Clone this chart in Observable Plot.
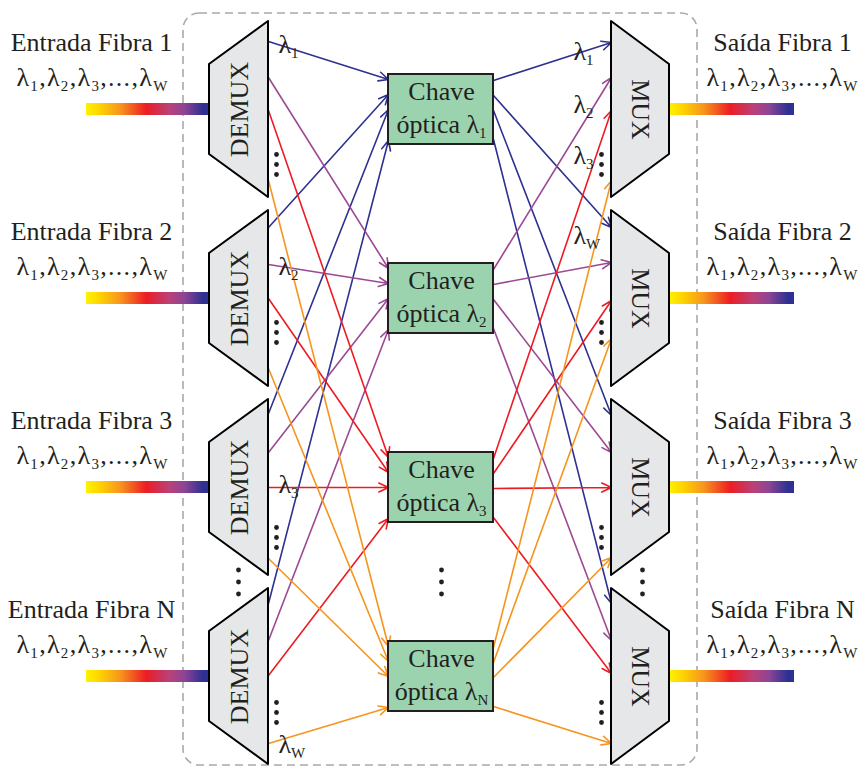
<!DOCTYPE html>
<html><head><meta charset="utf-8">
<script src="https://cdn.jsdelivr.net/npm/d3@7"></script>
<script src="https://cdn.jsdelivr.net/npm/@observablehq/plot@0.6"></script>
<style>body{margin:0;background:#fff}</style>
</head><body><div id="chart"></div>
<script>
// ---- data ----
const fibers = ["1", "2", "3", "N"];
const wavelengths = ["1", "2", "3", "W"];
const waveColors = ["#2e3192", "#9b4993", "#ed1c24", "#f7941d"];
const rowY = [109, 298, 487, 676];                       // centre of each row (fibre / switch)
const demuxPortOffsets = [[-68, -32, 1, 71], [-71, -34, 0, 70], [-74, -35, 0, 71], [-73, -36, -1, 67]];
const muxPortOffsets   = [[-67, -32, 1, 71], [-71, -36, 2, 40], [-72, -35, 0, 70], [-73, -36, -3, 67]];
const switchInOffsets  = [-30, -15, 0, 31];
const switchOutOffsets = [-29, -14, 1, 30];
const portDotOffsets   = [45, 24, 40, 26];
const demuxLabels = [{row: 0, w: 0, dy: -57}, {row: 1, w: 1, dy: -24}, {row: 2, w: 2, dy: 5}, {row: 3, w: 3, dy: 76}];
const muxLabels   = [{w: 0, y: 59}, {w: 1, y: 112}, {w: 2, y: 163}, {w: 3, y: 243}];

// ---- layout ----
const L = {demuxL: 209, demuxR: 268, muxL: 611, muxR: 669, boxL: 388, boxR: 493,
  narrow: 45, wide: 88, boxHalf: 35, barH: 6, leftBar: [86, 209], rightBar: [669, 794],
  leftText: 91, rightText: 782, fs: 26};
const ink = "#231f20";

const trapezoids = [];
rowY.forEach((c, i) => {
  trapezoids.push({id: "d" + i, x: L.demuxL, y1: c - L.narrow, y2: c + L.narrow},
                  {id: "d" + i, x: L.demuxR, y1: c - L.wide, y2: c + L.wide},
                  {id: "m" + i, x: L.muxL, y1: c - L.wide, y2: c + L.wide},
                  {id: "m" + i, x: L.muxR, y1: c - L.narrow, y2: c + L.narrow});
});
const links = [];
wavelengths.forEach((w, j) => {
  rowY.forEach((c, k) => {
    links.push({x1: L.demuxR, y1: c + demuxPortOffsets[k][j], x2: L.boxL, y2: rowY[j] + switchInOffsets[k], color: waveColors[j]});
    links.push({x1: L.boxR, y1: rowY[j] + switchOutOffsets[k], x2: L.muxL, y2: c + muxPortOffsets[k][j], color: waveColors[j]});
  });
});
const dots = [];
rowY.forEach((c, k) => [0, 10, 20].forEach(s => {
  dots.push({x: 276, y: c + portDotOffsets[k] + s});
  dots.push({x: 601, y: c + portDotOffsets[k] + s});
}));
const gapMid = (rowY[2] + rowY[3]) / 2;
[-12, 0, 12].forEach(s => [238, 441, 642].forEach(x => dots.push({x, y: gapMid + s})));

const bars = rowY.flatMap(c => [
  {x1: L.leftBar[0], x2: L.leftBar[1], y1: c - L.barH, y2: c + L.barH},
  {x1: L.rightBar[0], x2: L.rightBar[1], y1: c - L.barH, y2: c + L.barH}]);

const rows = rowY.map((c, i) => ({c, f: fibers[i], w: wavelengths[i]}));
const lamList = "λ_1,λ_2,λ_3,...,λ_W";

const plot = Plot.plot({
  width: 861, height: 769, margin: 0,
  x: {domain: [0, 861], range: [0, 861], axis: null},
  y: {domain: [0, 769], range: [0, 769], axis: null},
  color: {type: "identity"},
  style: {fontFamily: "'Liberation Serif', 'Times New Roman', serif", background: "#fff", color: ink},
  marks: [
    Plot.rect([{}], {x1: 183, x2: 697, y1: 13, y2: 765, rx: 16, fill: "none", stroke: "#a7a9ac", strokeWidth: 1.6, strokeDasharray: "8,5"}),
    Plot.rect(bars, {x1: "x1", x2: "x2", y1: "y1", y2: "y2", fill: "url(#fibreGrad)"}),
    Plot.arrow(links, {x1: "x1", y1: "y1", x2: "x2", y2: "y2", stroke: "color", strokeWidth: 1.6, headLength: 10, headAngle: 50}),
    Plot.areaY(trapezoids, {x: "x", y1: "y1", y2: "y2", z: "id", fill: "#e6e7e8", stroke: "#000", strokeWidth: 2, curve: "linear"}),
    Plot.rect(rows, {x1: L.boxL, x2: L.boxR, y1: d => d.c - L.boxHalf, y2: d => d.c + L.boxHalf, fill: "#9bd3ae", stroke: ink, strokeWidth: 2}),
    Plot.dot(dots, {x: "x", y: "y", r: 2.4, fill: ink, stroke: null}),
    Plot.text(rows, {x: L.leftText, y: d => d.c - 59, text: d => "Entrada Fibra " + d.f, fontSize: L.fs, lineAnchor: "bottom", fill: ink}),
    Plot.text(rows, {x: L.leftText + 1, y: d => d.c - 24, text: () => lamList, fontSize: L.fs, lineAnchor: "bottom", fill: ink}),
    Plot.text(rows, {x: L.rightText, y: d => d.c - 59, text: d => "Saída Fibra " + d.f, fontSize: L.fs, lineAnchor: "bottom", fill: ink}),
    Plot.text(rows, {x: L.rightText, y: d => d.c - 24, text: () => lamList, fontSize: L.fs, lineAnchor: "bottom", fill: ink}),
    Plot.text(rows, {x: 239, y: d => d.c, text: () => "DEMUX", rotate: -90, fontSize: L.fs, fill: ink}),
    Plot.text(rows, {x: 640, y: d => d.c, text: () => "MUX", rotate: 90, fontSize: L.fs, fill: ink}),
    Plot.text(rows, {x: 441, y: d => d.c - 10, text: () => "Chave", fontSize: L.fs, lineAnchor: "bottom", fill: ink}),
    Plot.text(rows, {x: 441, y: d => d.c + 23, text: d => "óptica λ_" + d.f, fontSize: L.fs, lineAnchor: "bottom", fill: ink}),
    Plot.text(demuxLabels, {x: 278, y: d => rowY[d.row] + d.dy, text: d => "λ_" + wavelengths[d.w], fontSize: L.fs, lineAnchor: "bottom", textAnchor: "start", fill: ink}),
    Plot.text(muxLabels, {x: 573, y: "y", text: d => "λ_" + wavelengths[d.w], fontSize: L.fs, lineAnchor: "bottom", textAnchor: "start", fill: ink})
  ]
});

// gradient definition for the fibre bars
const ns = "http://www.w3.org/2000/svg";
const defs = document.createElementNS(ns, "defs");
const grad = document.createElementNS(ns, "linearGradient");
grad.setAttribute("id", "fibreGrad");
[[0, "#fff200"], [0.1, "#fed700"], [0.28, "#f7941d"], [0.49, "#ed1c24"], [0.68, "#b8427a"], [0.8, "#8e4495"], [0.95, "#2e3192"], [1, "#2e3192"]]
  .forEach(([o, col]) => { const s = document.createElementNS(ns, "stop"); s.setAttribute("offset", o); s.setAttribute("stop-color", col); grad.appendChild(s); });
defs.appendChild(grad);
plot.insertBefore(defs, plot.firstChild);

// subscripts: "λ_1" -> λ with subscript 1
plot.querySelectorAll("text").forEach(t => {
  const s = t.textContent;
  if (!s.includes("_")) return;
  if (s === lamList) t.setAttribute("letter-spacing", "1.3");
  const parts = s.split(/_(.)/);
  t.textContent = "";
  parts.forEach((p, i) => {
    if (!p) return;
    const sp = document.createElementNS(ns, "tspan");
    sp.textContent = p;
    if (i % 2) { sp.setAttribute("font-size", 15); sp.setAttribute("dy", 5); }
    else if (i > 0) { sp.setAttribute("dy", -5); }
    t.appendChild(sp);
  });
});
document.getElementById("chart").appendChild(plot);
</script>
</body></html>
